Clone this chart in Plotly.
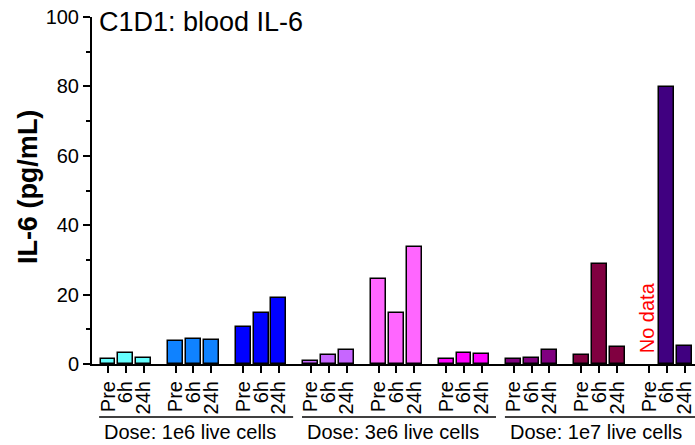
import plotly.graph_objects as go

# ---- data ----
times = ["Pre", "6h", "24h"]
dose_labels = ["Dose: 1e6 live cells", "Dose: 3e6 live cells", "Dose: 1e7 live cells"]
group_colors = ["#66FFFF", "#0F82FF", "#0000FF",
                "#C766FF", "#FF66FF", "#FF00FF",
                "#800080", "#800040", "#400080"]
g1 = [1.3, 3.1, 1.8]
g2 = [6.6, 7.1, 6.8]
g3 = [10.6, 14.6, 19.0]
g4 = [0.9, 2.5, 4.1]
g5 = [24.6, 14.8, 33.6]
g6 = [1.5, 3.2, 2.8]
g7 = [1.4, 1.6, 4.0]
g8 = [2.7, 28.7, 5.0]
g9 = [None, 79.7, 5.1]
groups = [g1, g2, g3, g4, g5, g6, g7, g8, g9]
no_data_label = "No data"

FONT = "Liberation Sans, Arial, sans-serif"
GROUP_STEP = 3.8

fig = go.Figure()
tickvals, ticktext = [], []
for gi, vals in enumerate(groups):
    xs = [gi * GROUP_STEP + i for i in range(len(times))]
    tickvals += xs
    ticktext += times
    fig.add_trace(go.Bar(
        x=xs, y=vals, width=0.84,
        marker=dict(color=group_colors[gi], line=dict(color="black", width=1.5)),
        showlegend=False, hoverinfo="skip",
    ))

# "No data" label at the missing bar
fig.add_annotation(x=8 * GROUP_STEP - 0.15, y=13.3, xref="x", yref="y",
                   text=no_data_label, textangle=-90, showarrow=False,
                   font=dict(family=FONT, size=20, color="red"))

# dose group underlines and labels
for di, lab in enumerate(dose_labels):
    first = (3 * di) * GROUP_STEP
    last = (3 * di + 2) * GROUP_STEP + 2
    x0 = first - 0.5
    x1 = last + 0.8 if di < 2 else last + 2
    fig.add_shape(type="line", xref="x", yref="paper", x0=x0, x1=x1,
                  y0=-0.1527, y1=-0.1527, line=dict(color="black", width=1.5))
    fig.add_annotation(x=(3 * di + 1) * GROUP_STEP + 1 - 0.2, y=-0.196, xref="x", yref="paper",
                       text=lab, showarrow=False, xanchor="center", yanchor="middle",
                       font=dict(family=FONT, size=20, color="black"))

# title
fig.add_annotation(x=0.0083, y=0.9856, xref="paper", yref="paper",
                   text="C1D1: blood IL-6", showarrow=False,
                   xanchor="left", yanchor="middle",
                   font=dict(family=FONT, size=27, color="black"))

# y-axis title
fig.add_annotation(x=-0.106, y=0.51, xref="paper", yref="paper",
                   text="<b>IL-6 (pg/mL)</b>", showarrow=False, textangle=-90,
                   xanchor="center", yanchor="middle",
                   font=dict(family=FONT, size=27, color="black"))

fig.update_layout(
    width=695, height=445,
    margin=dict(l=92, r=0, t=17, b=81),
    paper_bgcolor="white", plot_bgcolor="white",
    bargap=0, barmode="overlay",
    font=dict(family=FONT, size=20, color="black"),
    xaxis=dict(range=[-0.9, 32.98], tickvals=tickvals, ticktext=ticktext,
               tickangle=-90, ticks="outside", ticklen=7, tickwidth=2,
               tickcolor="black", showline=True, linewidth=2, linecolor="black",
               showgrid=False, zeroline=False, tickfont=dict(size=20),
               ticklabeloverflow="allow"),
    yaxis=dict(range=[0, 100], tickvals=[0, 20, 40, 60, 80, 100],
               ticks="outside", ticklen=7, tickwidth=2, tickcolor="black",
               minor=dict(dtick=10, ticks="outside", ticklen=4, tickwidth=2, tickcolor="black"),
               showline=True, linewidth=2, linecolor="black",
               showgrid=False, zeroline=False, tickfont=dict(size=20)),
)

fig.write_html("out.html", config={"displayModeBar": False},
               post_script="document.body.style.margin='0';document.body.style.overflow='hidden';")
